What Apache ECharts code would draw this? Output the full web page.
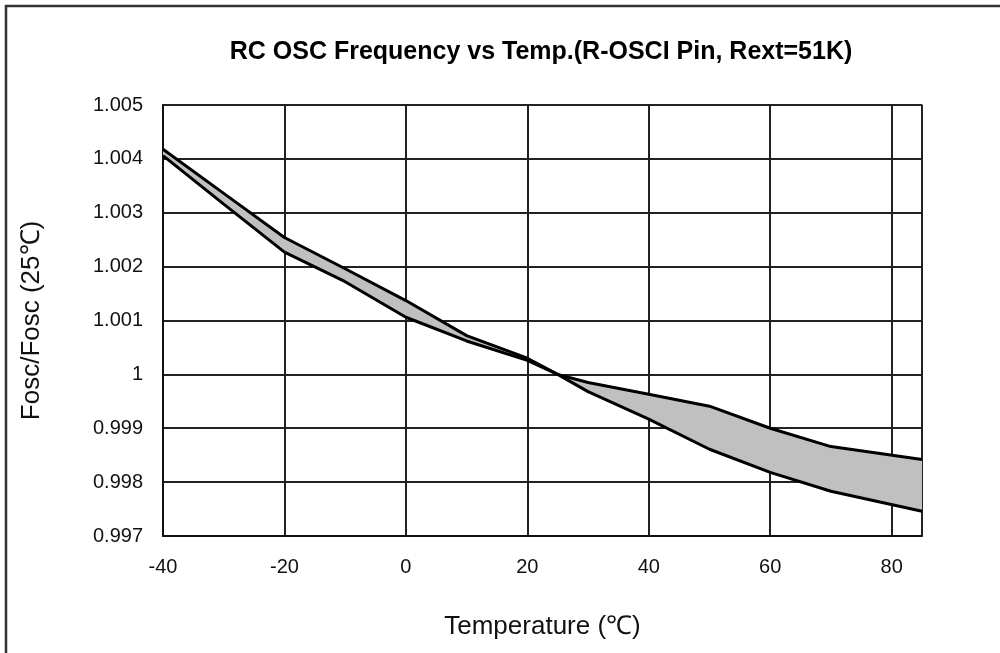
<!DOCTYPE html>
<html>
<head>
<meta charset="utf-8">
<script src="https://cdn.jsdelivr.net/npm/echarts@6/dist/echarts.min.js"></script>
<style>
html,body{margin:0;padding:0;background:#fff;}
#chart{width:1000px;height:653px;}
</style>
</head>
<body>
<div id="chart"></div>
<script>
// Temperature points (°C)
var temps = [-40, -30, -20, -10, 0, 10, 20, 25, 30, 40, 50, 60, 70, 85];
// Curve A (upper at cold, lower at hot)
var curveA = [1.00418, 1.00336, 1.00254, 1.00196, 1.00137, 1.00072, 1.00030, 1.0000, 0.99968, 0.99917, 0.99861, 0.99818, 0.99783, 0.99746];
// Curve B (lower at cold, upper at hot)
var curveB = [1.00406, 1.00316, 1.00227, 1.00172, 1.00106, 1.00062, 1.00026, 1.0000, 0.99985, 0.99963, 0.99941, 0.99900, 0.99866, 0.99842];
var yTicks = [0.997, 0.998, 0.999, 1, 1.001, 1.002, 1.003, 1.004, 1.005];

var aData = temps.map(function (t, i) { return [t, curveA[i]]; });
var bData = temps.map(function (t, i) { return [t, curveB[i]]; });

var chart = echarts.init(document.getElementById('chart'), null, {renderer: 'canvas'});
var FF = 'Liberation Sans, Arial, sans-serif';
var labelFont = {fontFamily: FF, fontSize: 20, color: '#111'};
chart.setOption({
  animation: false,
  backgroundColor: '#fff',
  title: {
    text: 'RC OSC Frequency vs Temp.(R-OSCI Pin, Rext=51K)',
    left: 536, top: 35, textAlign: 'center',
    textStyle: {fontFamily: FF, fontSize: 25, fontWeight: 'bold', color: '#000'}
  },
  graphic: [{
    type: 'rect', shape: {x: 6, y: 6, width: 1010, height: 670},
    style: {fill: 'none', stroke: '#333', lineWidth: 2.5}, z: 100
  }],
  grid: {left: 163, right: 78, top: 105, bottom: 117, show: true, borderColor: '#999', borderWidth: 1.5},
  xAxis: {
    type: 'value', min: -40, max: 85, interval: 20,
    name: 'Temperature (℃)', nameLocation: 'middle', nameGap: 78,
    nameTextStyle: {fontFamily: FF, fontSize: 26, color: '#111'},
    axisLine: {show: true, lineStyle: {color: '#111', width: 2}},
    axisTick: {show: false},
    axisLabel: Object.assign({margin: 21, showMaxLabel: false}, labelFont),
    splitLine: {show: true, lineStyle: {color: '#222', width: 2}}
  },
  yAxis: {
    type: 'value', min: 0.997, max: 1.005, interval: 0.001,
    name: 'Fosc/Fosc (25℃)', nameLocation: 'middle', nameGap: 118, nameRotate: 90,
    nameTextStyle: {fontFamily: FF, fontSize: 26, color: '#111'},
    axisLine: {show: true, onZero: false, lineStyle: {color: '#111', width: 2}},
    axisTick: {show: false},
    axisLabel: Object.assign({margin: 20, customValues: yTicks, formatter: function (v) { return String(+v.toFixed(3)); }}, labelFont),
    splitLine: {show: true, lineStyle: {color: '#222', width: 2}}
  },
  series: [
    {type: 'custom', name: 'band', data: [[0]], silent: true, z: 1,
     renderItem: function (params, api) {
       var pts = [];
       for (var i = 0; i < temps.length; i++) pts.push(api.coord([temps[i], curveA[i]]));
       for (var j = temps.length - 1; j >= 0; j--) pts.push(api.coord([temps[j], curveB[j]]));
       return {type: 'polygon', shape: {points: pts}, style: {fill: '#c0c0c0', stroke: 'none'}};
     }},
    {type: 'line', name: 'A', data: aData, symbol: 'none',
     lineStyle: {color: '#000', width: 3}, z: 3},
    {type: 'line', name: 'B', data: bData, symbol: 'none',
     lineStyle: {color: '#000', width: 3}, z: 3}
  ]
});
</script>
</body>
</html>
